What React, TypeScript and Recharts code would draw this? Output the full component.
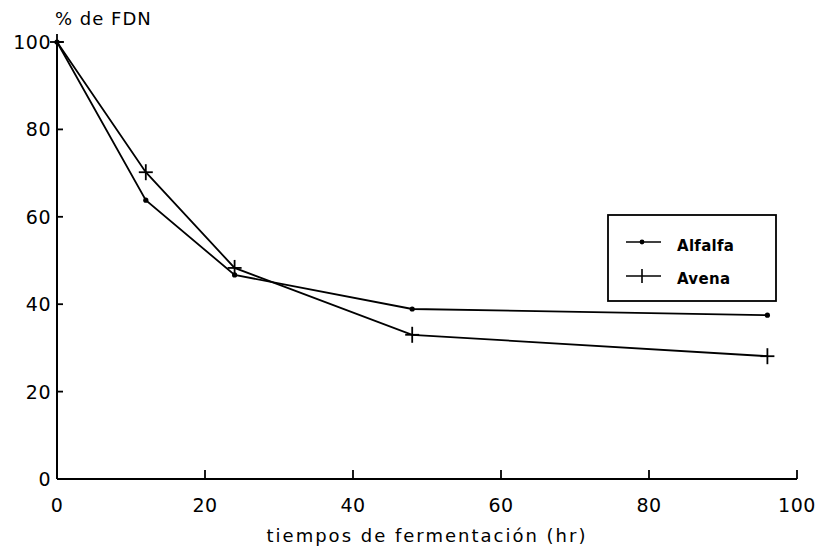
import React from "react";
import { LineChart, Line, XAxis, YAxis, Label } from "recharts";

const hours = [0, 12, 24, 48, 96];
const alfalfa = [100, 63.8, 46.7, 38.9, 37.5];
const avena = [100, 70.2, 48.3, 33.0, 28.1];
const xTicks = [0, 20, 40, 60, 80, 100];
const yTicks = [0, 20, 40, 60, 80, 100];
const seriesNames = ["Alfalfa", "Avena"];

const data = hours.map((h, i) => ({ h, alfalfa: alfalfa[i], avena: avena[i] }));

const FONT = "'DejaVu Sans', sans-serif";

const Dot = (props: any) => {
  const { cx, cy } = props;
  if (cx == null || cy == null) return null;
  return <circle cx={cx} cy={cy} r={2.6} fill="#000" />;
};

const Cross = (props: any) => {
  const { cx, cy } = props;
  if (cx == null || cy == null) return null;
  return (
    <g stroke="#000" strokeWidth={1.8}>
      <line x1={cx - 7} y1={cy} x2={cx + 7} y2={cy} />
      <line x1={cx} y1={cy - 8} x2={cx} y2={cy + 8} />
    </g>
  );
};

const XTick = (props: any) => {
  const { x, y, payload } = props;
  return (
    <g>
      <line x1={x} y1={y} x2={x} y2={y - 9} stroke="#000" strokeWidth={1.8} />
      <text x={x} y={y + 33} textAnchor="middle" fontFamily={FONT} fontSize={19} letterSpacing={0.5} fill="#000">
        {payload.value}
      </text>
    </g>
  );
};

const YTick = (props: any) => {
  const { x, y, payload } = props;
  return (
    <g>
      <line x1={x} y1={y} x2={x + 6} y2={y} stroke="#000" strokeWidth={1.8} />
      <text x={x - 6} y={y + 7} textAnchor="end" fontFamily={FONT} fontSize={19} letterSpacing={0.5} fill="#000">
        {payload.value}
      </text>
    </g>
  );
};

const LegendBox = () => (
  <svg width={172} height={90} style={{ display: "block" }}>
    <rect x={1} y={1} width={168} height={86} fill="#fff" stroke="#000" strokeWidth={1.8} />
    <line x1={19} y1={28} x2={54} y2={28} stroke="#000" strokeWidth={1.6} />
    <circle cx={35} cy={28} r={2.4} fill="#000" />
    <text x={70} y={37} fontFamily={FONT} fontSize={15} fontWeight="bold" letterSpacing={0.3} fill="#000">{seriesNames[0]}</text>
    <line x1={19} y1={62} x2={54} y2={62} stroke="#000" strokeWidth={1.6} />
    <line x1={35} y1={55} x2={35} y2={69} stroke="#000" strokeWidth={1.6} />
    <text x={70} y={70} fontFamily={FONT} fontSize={15} fontWeight="bold" letterSpacing={0.3} fill="#000">{seriesNames[1]}</text>
  </svg>
);

export default function App() {
  return (
    <div style={{ position: "absolute", left: 0, top: 0, width: 832, height: 552, background: "#fff" }}>
      <LineChart width={832} height={552} data={data} margin={{ top: 42, right: 35, left: 0, bottom: 0 }}>
        <XAxis
          dataKey="h"
          type="number"
          domain={[0, 100]}
          ticks={xTicks}
          interval={0}
          height={73}
          tickSize={0}
          tickMargin={0}
          tickLine={false}
          axisLine={{ stroke: "#000", strokeWidth: 2 }}
          tick={<XTick />}
        >
          <Label
            content={(p: any) => {
              const vb = p.viewBox;
              return (
                <text x={vb.x + vb.width / 2} y={542} textAnchor="middle" fontFamily={FONT} fontSize={18} letterSpacing={2} fill="#000">
                  tiempos de fermentación (hr)
                </text>
              );
            }}
          />
        </XAxis>
        <YAxis
          type="number"
          domain={[0, 100]}
          ticks={yTicks}
          interval={0}
          width={57}
          tickSize={0}
          tickMargin={0}
          tickLine={false}
          axisLine={{ stroke: "#000", strokeWidth: 2 }}
          tick={<YTick />}
        >
          <Label
            content={() => (
              <text x={55} y={25} fontFamily={FONT} fontSize={18} letterSpacing={1} fill="#000">
                % de FDN
              </text>
            )}
          />
        </YAxis>
        <Line
          dataKey="alfalfa"
          name={seriesNames[0]}
          stroke="#000"
          strokeWidth={1.8}
          dot={<Dot />}
          activeDot={false}
          isAnimationActive={false}
        />
        <Line
          dataKey="avena"
          name={seriesNames[1]}
          stroke="#000"
          strokeWidth={1.8}
          dot={<Cross />}
          activeDot={false}
          isAnimationActive={false}
        />
      </LineChart>
      <div style={{ position: "absolute", left: 607, top: 214 }}>
        <LegendBox />
      </div>
    </div>
  );
}
